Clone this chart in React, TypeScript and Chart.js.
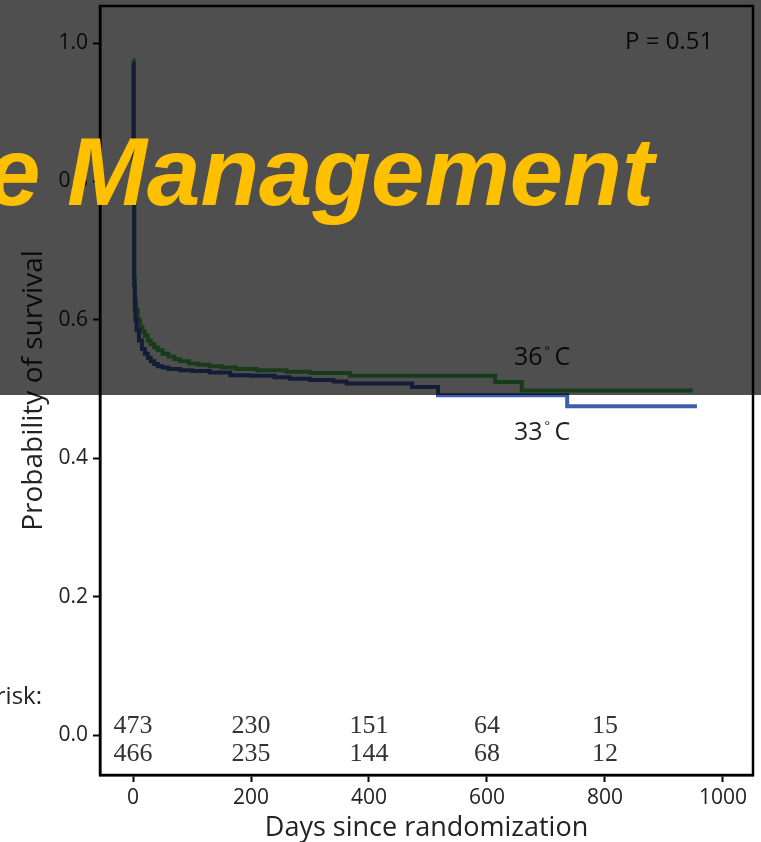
import React, { useEffect, useRef } from 'react';
import { Chart, registerables } from 'chart.js';

Chart.register(...registerables);

// ---- data ----
const X_TICKS = [0, 200, 400, 600, 800, 1000];
const Y_TICKS = [0, 0.2, 0.4, 0.6, 0.8, 1.0];

// 36 °C group (green)
const DAYS_36 = [0, 1, 2, 3, 5, 8, 12, 16, 20, 25, 30, 36, 42, 50, 60, 70, 80, 95, 110, 130, 150, 175, 210, 260, 300, 368, 614, 659, 949];
const SURV_36 = [0.975, 0.80, 0.66, 0.63, 0.615, 0.60, 0.59, 0.583, 0.577, 0.57, 0.565, 0.56, 0.556, 0.551, 0.547, 0.543, 0.540, 0.537, 0.535, 0.533, 0.531, 0.529, 0.527, 0.525, 0.523, 0.519, 0.510, 0.498, 0.498];

// 33 °C group (blue)
const DAYS_33 = [0, 1, 2, 3, 4, 6, 10, 15, 20, 25, 30, 36, 42, 50, 60, 80, 100, 130, 165, 200, 240, 266, 300, 340, 362, 473, 517, 736, 956];
const SURV_33 = [0.97, 0.78, 0.65, 0.615, 0.60, 0.585, 0.57, 0.558, 0.551, 0.545, 0.54, 0.536, 0.533, 0.531, 0.529, 0.527, 0.526, 0.524, 0.520, 0.519, 0.517, 0.515, 0.513, 0.511, 0.508, 0.503, 0.491, 0.475, 0.475];

// numbers at risk
const AT_RISK_DAYS = [0, 200, 400, 600, 800];
const AT_RISK_33 = [473, 230, 151, 64, 15];
const AT_RISK_36 = [466, 235, 144, 68, 12];

const P_TEXT = 'P = 0.51';
const LABEL_36 = '36';
const LABEL_33 = '33';

const SANS = '"Open Sans", "DejaVu Sans", sans-serif';
const SERIF = '"Liberation Serif", "Times New Roman", serif';

const annotations = {
  id: 'annotations',
  afterDraw(chart: any) {
    const { ctx, chartArea: a, scales } = chart;
    const x = scales.x;
    ctx.save();
    // frame
    ctx.strokeStyle = '#000';
    ctx.lineWidth = 2.5;
    ctx.strokeRect(a.left, a.top, a.right - a.left, a.bottom - a.top);

    // numbers at risk
    ctx.fillStyle = '#333';
    ctx.font = `26px ${SERIF}`;
    ctx.textAlign = 'center';
    ctx.textBaseline = 'alphabetic';
    AT_RISK_DAYS.forEach((d, i) => {
      const px = x.getPixelForValue(d);
      ctx.fillText(String(AT_RISK_33[i]), px, a.bottom - 42);
      ctx.fillText(String(AT_RISK_36[i]), px, a.bottom - 14);
    });

    // "Number at risk:" (cut at the left edge)
    ctx.fillStyle = '#222';
    ctx.font = `24px ${SANS}`;
    ctx.textAlign = 'right';
    ctx.fillText('Number at risk:', 42, 704);

    // P value
    ctx.textAlign = 'left';
    ctx.font = `24px ${SANS}`;
    ctx.fillText(P_TEXT, a.right - 128, 49);

    // curve labels with degree sign
    const degLabel = (num: string, lx: number, by: number) => {
      ctx.font = `25px ${SANS}`;
      ctx.textAlign = 'left';
      ctx.fillText(num, lx, by);
      const w = ctx.measureText(num).width;
      ctx.font = `13px ${SANS}`;
      ctx.fillText('°', lx + w + 2, by - 10);
      ctx.font = `25px ${SANS}`;
      ctx.fillText('C', lx + w + 12, by);
    };
    degLabel(LABEL_36, 514, 365);
    degLabel(LABEL_33, 514, 440);
    ctx.restore();
  },
};

export default function App() {
  const ref = useRef<HTMLCanvasElement>(null);

  useEffect(() => {
    const canvas = ref.current;
    if (!canvas) return;
    const chart = new Chart(canvas, {
      type: 'scatter',
      data: {
        datasets: [
          {
            label: '33 °C',
            data: DAYS_33.map((d, i) => ({ x: d, y: SURV_33[i] })),
            showLine: true,
            stepped: true,
            borderColor: '#3D5DAE',
            backgroundColor: '#3D5DAE',
            borderWidth: 4,
            pointRadius: 0,
            fill: false,
          },
          {
            label: '36 °C',
            data: DAYS_36.map((d, i) => ({ x: d, y: SURV_36[i] })),
            showLine: true,
            stepped: true,
            borderColor: '#4FBE5A',
            backgroundColor: '#4FBE5A',
            borderWidth: 4,
            pointRadius: 0,
            fill: false,
          },
        ],
      },
      options: {
        responsive: false,
        animation: false,
        events: [],
        layout: { padding: { top: 6, right: 8, bottom: 0, left: 0 } },
        plugins: {
          legend: { display: false },
          tooltip: { enabled: false },
          title: { display: false },
        },
        scales: {
          x: {
            type: 'linear',
            min: -56,
            max: 1051,
            afterBuildTicks: (s: any) => {
              s.ticks = X_TICKS.map((v) => ({ value: v }));
            },
            afterFit: (s: any) => {
              s.height = 67;
              s.paddingLeft = 0;
              s.paddingRight = 0;
            },
            ticks: {
              font: { family: SANS, size: 21 },
              color: '#222',
              padding: 3,
              maxRotation: 0,
              callback: (v: any) => String(v),
            },
            grid: {
              drawOnChartArea: false,
              drawTicks: true,
              tickLength: 7,
              tickWidth: 2,
              tickColor: '#000',
              color: '#000',
            },
            border: { display: true, color: '#000', width: 2.5 },
            title: {
              display: true,
              text: 'Days since randomization',
              color: '#222',
              font: { family: SANS, size: 27, lineHeight: 1 },
              padding: { top: 0, bottom: 0 },
            },
          },
          y: {
            type: 'linear',
            min: -0.0578,
            max: 1.0535,
            afterBuildTicks: (s: any) => {
              s.ticks = Y_TICKS.map((v) => ({ value: v }));
            },
            afterFit: (s: any) => {
              s.width = 100;
              s.paddingTop = 0;
              s.paddingBottom = 0;
            },
            ticks: {
              font: { family: SANS, size: 21 },
              color: '#222',
              padding: 5,
              callback: (v: any) => Number(v).toFixed(1),
            },
            grid: {
              drawOnChartArea: false,
              drawTicks: true,
              tickLength: 7,
              tickWidth: 2,
              tickColor: '#000',
              color: '#000',
            },
            border: { display: true, color: '#000', width: 2.5 },
            title: {
              display: true,
              text: 'Probability of survival',
              color: '#222',
              font: { family: SANS, size: 28, lineHeight: 1.2 },
              padding: { top: 17, bottom: 0 },
            },
          },
        },
      },
      plugins: [annotations],
    });
    return () => chart.destroy();
  }, []);

  return (
    <div
      style={{
        position: 'absolute',
        left: 0,
        top: 0,
        width: 761,
        height: 842,
        overflow: 'hidden',
        background: '#fff',
      }}
    >
      <canvas ref={ref} width={761} height={842} style={{ display: 'block', width: 761, height: 842 }} />
      <div
        style={{
          position: 'absolute',
          left: 0,
          top: 0,
          width: 761,
          height: 395,
          background: 'rgba(0,0,0,0.69)',
        }}
      />
      <div
        style={{
          position: 'absolute',
          left: -13,
          top: 124,
          font: 'italic bold 96px "Liberation Sans", Arial, sans-serif',
          lineHeight: '96px',
          color: '#FFC000',
          whiteSpace: 'nowrap',
        }}
      >
        e Management
      </div>
    </div>
  );
}
